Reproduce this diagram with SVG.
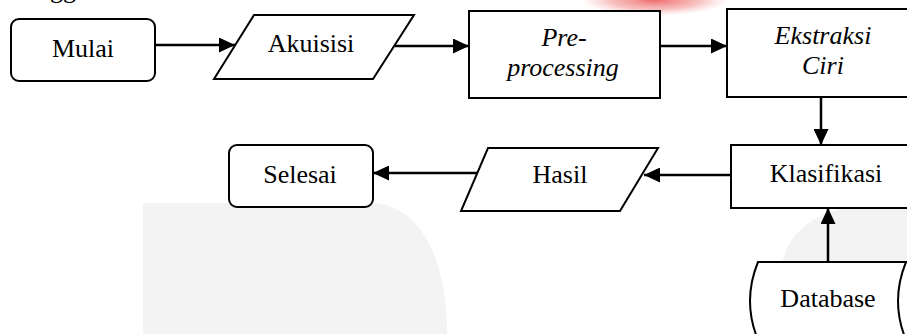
<svg xmlns="http://www.w3.org/2000/svg" width="907" height="334" viewBox="0 0 907 334">
<defs>
<style>
.shape{fill:#fff;stroke:#000;stroke-width:2}
.lbl{font-family:"Liberation Serif","Times New Roman",serif;font-size:26px;fill:#000;text-anchor:middle}
.it{font-style:italic}
.conn line{stroke:#000;stroke-width:2.5}
</style>
<marker id="ah" markerWidth="16" markerHeight="15" refX="16" refY="7.5" orient="auto" markerUnits="userSpaceOnUse">
<path d="M0,0 L16,7.5 L0,15 Z" fill="#000"/>
</marker>
<radialGradient id="red" cx="0.5" cy="0.5" r="0.5">
<stop offset="0" stop-color="#ec5a5a" stop-opacity="0.9"/>
<stop offset="0.6" stop-color="#f28c8c" stop-opacity="0.55"/>
<stop offset="1" stop-color="#f7c0c0" stop-opacity="0"/>
</radialGradient>
</defs>
<rect width="907" height="334" fill="#fff"/>
<g id="watermark">
<path d="M143,203 L370,203 C418,203 447,255 447,334 L143,334 Z" fill="#f3f3f3"/>
<path d="M780,334 L781,268 C787,232 815,210 860,206 L907,206 L907,334 Z" fill="#f3f3f3"/>
<ellipse cx="655" cy="0" rx="75" ry="16" fill="url(#red)"/>
</g>
<text class="lbl" x="63" y="-2">gg</text>
<g class="conn" id="connectors">
<line x1="155" y1="45" x2="235" y2="45" marker-end="url(#ah)"/>
<line x1="395" y1="46" x2="469" y2="46" marker-end="url(#ah)"/>
<line x1="660" y1="46" x2="727" y2="46" marker-end="url(#ah)"/>
<line x1="821" y1="97" x2="821" y2="145" marker-end="url(#ah)"/>
<line x1="731" y1="175" x2="644" y2="175" marker-end="url(#ah)"/>
<line x1="479" y1="173" x2="373" y2="173" marker-end="url(#ah)"/>
<line x1="828" y1="262" x2="828" y2="208" marker-end="url(#ah)"/>
</g>
<g id="mulai">
<rect class="shape" x="11" y="19" width="144" height="62" rx="8"/>
<text class="lbl" x="83" y="57">Mulai</text>
</g>
<g id="akuisisi">
<polygon class="shape" points="254,15 414,15 373,79 214,79"/>
<text class="lbl" x="311" y="52">Akuisisi</text>
</g>
<g id="preprocessing">
<rect class="shape" x="469" y="11" width="191" height="87"/>
<text class="lbl it" x="564" y="46">Pre-</text>
<text class="lbl it" x="563" y="76">processing</text>
</g>
<g id="ekstraksi">
<rect class="shape" x="727" y="9" width="200" height="88"/>
<text class="lbl it" x="823" y="44">Ekstraksi</text>
<text class="lbl it" x="823" y="74">Ciri</text>
</g>
<g id="klasifikasi">
<rect class="shape" x="731" y="145" width="195" height="63"/>
<text class="lbl" x="826" y="182">Klasifikasi</text>
</g>
<g id="hasil">
<polygon class="shape" points="488,148 658,148 620,211 461,211"/>
<text class="lbl" x="560" y="183">Hasil</text>
</g>
<g id="selesai">
<rect class="shape" x="229" y="145" width="144" height="62" rx="8"/>
<text class="lbl" x="300" y="183">Selesai</text>
</g>
<g id="database">
<path class="shape" d="M758,262 L915,262 L915,340 L758,340 Q742,301 758,262 Z"/>
<path d="M906,262 Q890,301 906,340" fill="none" stroke="#000" stroke-width="2"/>
<text class="lbl" x="828" y="307">Database</text>
</g>
</svg>
